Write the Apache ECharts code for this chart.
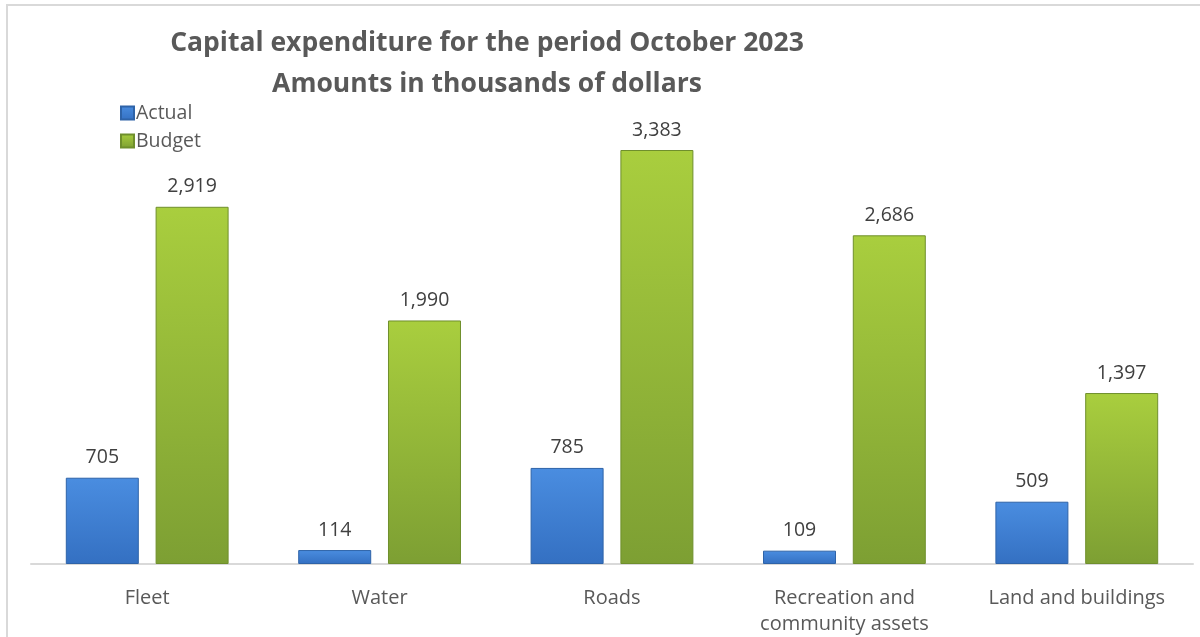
<!DOCTYPE html>
<html>
<head>
<meta charset="utf-8">
<script src="https://cdn.jsdelivr.net/npm/echarts@6/dist/echarts.min.js"></script>
<style>html,body{margin:0;padding:0;background:#fff}#c{width:1200px;height:637px}</style>
</head>
<body>
<div id="c"></div>
<script>
const categories = ['Fleet', 'Water', 'Roads', 'Recreation and\ncommunity assets', 'Land and buildings'];
const actual = [705, 114, 785, 109, 509];
const budget = [2919, 1990, 3383, 2686, 1397];
const titleLines = ['Capital expenditure for the period October 2023', 'Amounts in thousands of dollars'];

const chart = echarts.init(document.getElementById('c'));
const font = '"Open Sans", "Noto Sans", sans-serif';
function grad(top, bottom) {
  return new echarts.graphic.LinearGradient(0, 0, 0, 1, [
    { offset: 0, color: top }, { offset: 1, color: bottom }
  ]);
}
function fmt(p) { return p.value.toLocaleString('en-US'); }
chart.setOption({
  animation: false,
  backgroundColor: '#fff',
  graphic: [{
    type: 'rect', shape: { x: 7, y: 5, width: 1200, height: 640 },
    style: { fill: 'none', stroke: '#d9d9d9', lineWidth: 2 }, silent: true
  }],
  title: {
    text: titleLines.join('\n'),
    left: 482, top: 18, textAlign: 'center',
    textStyle: { fontFamily: font, fontWeight: 'bold', fontSize: 26.5, color: '#595959', lineHeight: 41 }
  },
  legend: {
    orient: 'vertical', left: 115, top: 96, itemGap: 4,
    itemWidth: 13, itemHeight: 13, icon: 'rect',
    textStyle: { fontFamily: font, fontSize: 19.5, color: '#595959', padding: [0, 0, 0, -3], lineHeight: 24 },
    data: ['Actual', 'Budget']
  },
  grid: { left: 31, right: 7, top: 74.5, bottom: 72 },
  xAxis: {
    type: 'category', data: categories,
    axisLine: { lineStyle: { color: '#d9d9d9', width: 2 } },
    axisTick: { show: false },
    axisLabel: { fontFamily: font, fontSize: 20, color: '#595959', margin: 21, lineHeight: 26, interval: 0 }
  },
  yAxis: { type: 'value', min: 0, max: 4000, show: false, splitLine: { show: false } },
  series: [
    {
      name: 'Actual', type: 'bar', data: actual, barWidth: 73, barGap: '23%',
      itemStyle: { color: grad('#4a8de0', '#3470c2'), borderColor: '#2e63a8', borderWidth: 1 },
      label: { show: true, position: 'top', distance: 10, formatter: fmt, fontFamily: font, fontSize: 19.5, color: '#404040' }
    },
    {
      name: 'Budget', type: 'bar', data: budget, barWidth: 73,
      itemStyle: { color: grad('#a9ce3e', '#7d9f33'), borderColor: '#6f8f2c', borderWidth: 1 },
      label: { show: true, position: 'top', distance: 10, formatter: fmt, fontFamily: font, fontSize: 19.5, color: '#404040' }
    }
  ]
});
</script>
</body>
</html>
